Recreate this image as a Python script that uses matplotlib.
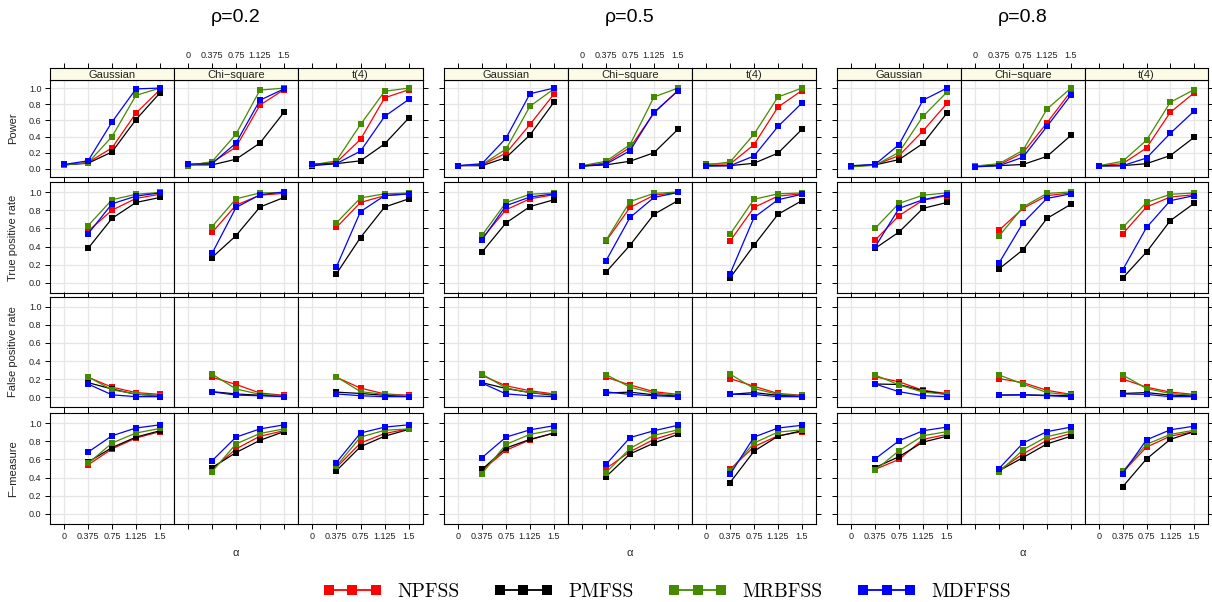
import numpy as np
import matplotlib
matplotlib.use("Agg")
import matplotlib.pyplot as plt
from matplotlib.lines import Line2D

plt.rcParams["font.family"] = ["Liberation Sans", "DejaVu Sans"]

W, H = 1212, 602

alpha_vals = [0, 0.375, 0.75, 1.125, 1.5]
alpha_labels = ["0", "0.375", "0.75", "1.125", "1.5"]
rhos = ["0.2", "0.5", "0.8"]
dists = ["Gaussian", "Chi\u2212square", "t(4)"]
metrics = ["Power", "True positive rate", "False positive rate", "F\u2212measure"]
methods = ["NPFSS", "PMFSS", "MRBFSS", "MDFFSS"]
colors = ["#FF0000", "#000000", "#458B00", "#0000FF"]

# power: [dist][method][alpha 0..1.5]; other metrics start at alpha=0.375
power_02 = [
    [[0.05, 0.08, 0.26, 0.69, 0.98], [0.05, 0.07, 0.21, 0.61, 0.94],
     [0.05, 0.075, 0.40, 0.91, 1.00], [0.055, 0.10, 0.58, 0.99, 1.00]],
    [[0.05, 0.08, 0.27, 0.79, 0.98], [0.05, 0.05, 0.12, 0.32, 0.70],
     [0.04, 0.09, 0.43, 0.975, 1.00], [0.06, 0.065, 0.32, 0.85, 0.99]],
    [[0.05, 0.08, 0.365, 0.88, 0.98], [0.04, 0.065, 0.10, 0.31, 0.63],
     [0.05, 0.10, 0.55, 0.96, 1.00], [0.06, 0.065, 0.22, 0.65, 0.86]],
]
tpr_02 = [
    [[0.57, 0.80, 0.93, 0.975], [0.38, 0.71, 0.885, 0.94],
     [0.63, 0.915, 0.975, 0.995], [0.54, 0.87, 0.955, 0.99]],
    [[0.555, 0.855, 0.965, 0.985], [0.28, 0.52, 0.835, 0.94],
     [0.62, 0.925, 0.99, 0.995], [0.325, 0.83, 0.97, 1.00]],
    [[0.61, 0.885, 0.96, 0.98], [0.10, 0.50, 0.835, 0.925],
     [0.66, 0.935, 0.98, 0.99], [0.175, 0.785, 0.96, 0.98]],
]
fpr_02 = [
    [[0.22, 0.11, 0.05, 0.03], [0.16, 0.09, 0.03, 0.015],
     [0.225, 0.08, 0.035, 0.015], [0.145, 0.025, 0.005, 0.005]],
    [[0.22, 0.14, 0.045, 0.02], [0.06, 0.035, 0.02, 0.01],
     [0.255, 0.09, 0.03, 0.015], [0.058, 0.022, 0.015, 0.005]],
    [[0.22, 0.10, 0.035, 0.02], [0.055, 0.04, 0.02, 0.01],
     [0.225, 0.06, 0.03, 0.015], [0.035, 0.015, 0.005, 0.005]],
]
f_02 = [
    [[0.54, 0.715, 0.835, 0.905], [0.57, 0.73, 0.845, 0.915],
     [0.555, 0.78, 0.89, 0.94], [0.68, 0.86, 0.945, 0.98]],
    [[0.49, 0.715, 0.855, 0.915], [0.51, 0.675, 0.81, 0.905],
     [0.465, 0.77, 0.885, 0.935], [0.585, 0.845, 0.935, 0.98]],
    [[0.51, 0.78, 0.885, 0.935], [0.475, 0.74, 0.855, 0.93],
     [0.525, 0.845, 0.92, 0.935], [0.565, 0.89, 0.955, 0.98]],
]

power_05 = [
    [[0.04, 0.05, 0.195, 0.55, 0.925], [0.04, 0.04, 0.14, 0.42, 0.825],
     [0.04, 0.055, 0.245, 0.775, 0.99], [0.04, 0.065, 0.38, 0.93, 1.00]],
    [[0.035, 0.075, 0.265, 0.69, 0.97], [0.035, 0.05, 0.095, 0.20, 0.49],
     [0.04, 0.095, 0.30, 0.89, 1.00], [0.035, 0.06, 0.225, 0.70, 0.965]],
    [[0.06, 0.06, 0.30, 0.765, 0.97], [0.04, 0.04, 0.07, 0.195, 0.49],
     [0.05, 0.085, 0.43, 0.89, 1.00], [0.035, 0.04, 0.16, 0.525, 0.815]],
]
tpr_05 = [
    [[0.49, 0.805, 0.925, 0.97], [0.34, 0.66, 0.84, 0.915],
     [0.525, 0.885, 0.975, 0.99], [0.475, 0.85, 0.945, 0.98]],
    [[0.46, 0.83, 0.965, 0.995], [0.12, 0.415, 0.755, 0.905],
     [0.47, 0.895, 0.985, 1.00], [0.245, 0.72, 0.94, 0.995]],
    [[0.46, 0.83, 0.955, 0.98], [0.055, 0.415, 0.755, 0.905],
     [0.535, 0.92, 0.98, 0.99], [0.10, 0.72, 0.915, 0.975]],
]
fpr_05 = [
    [[0.24, 0.125, 0.07, 0.035], [0.16, 0.095, 0.05, 0.02],
     [0.255, 0.10, 0.05, 0.03], [0.155, 0.035, 0.015, 0.005]],
    [[0.22, 0.135, 0.06, 0.03], [0.045, 0.055, 0.025, 0.015],
     [0.25, 0.11, 0.045, 0.02], [0.058, 0.03, 0.015, 0.005]],
    [[0.205, 0.12, 0.04, 0.02], [0.03, 0.05, 0.02, 0.015],
     [0.255, 0.095, 0.03, 0.018], [0.03, 0.03, 0.005, 0.005]],
]
f_05 = [
    [[0.48, 0.70, 0.815, 0.89], [0.49, 0.725, 0.82, 0.89],
     [0.445, 0.765, 0.875, 0.925], [0.62, 0.845, 0.925, 0.97]],
    [[0.50, 0.685, 0.82, 0.90], [0.41, 0.66, 0.78, 0.875],
     [0.455, 0.72, 0.865, 0.925], [0.545, 0.84, 0.915, 0.975]],
    [[0.49, 0.74, 0.86, 0.905], [0.345, 0.69, 0.855, 0.915],
     [0.475, 0.78, 0.90, 0.925], [0.435, 0.845, 0.945, 0.975]],
]

power_08 = [
    [[0.035, 0.05, 0.165, 0.47, 0.81], [0.035, 0.05, 0.115, 0.315, 0.69],
     [0.025, 0.045, 0.205, 0.65, 0.95], [0.04, 0.055, 0.30, 0.85, 1.00]],
    [[0.035, 0.05, 0.20, 0.57, 0.96], [0.035, 0.04, 0.055, 0.155, 0.415],
     [0.035, 0.065, 0.23, 0.74, 1.00], [0.025, 0.04, 0.145, 0.525, 0.915]],
    [[0.04, 0.065, 0.26, 0.70, 0.94], [0.04, 0.04, 0.065, 0.165, 0.39],
     [0.04, 0.095, 0.355, 0.825, 0.98], [0.035, 0.04, 0.135, 0.44, 0.715]],
]
tpr_08 = [
    [[0.47, 0.74, 0.91, 0.96], [0.38, 0.56, 0.82, 0.885],
     [0.60, 0.875, 0.965, 0.99], [0.395, 0.82, 0.915, 0.97]],
    [[0.58, 0.82, 0.96, 0.99], [0.155, 0.365, 0.71, 0.865],
     [0.515, 0.835, 0.985, 1.00], [0.22, 0.66, 0.93, 0.98]],
    [[0.54, 0.835, 0.945, 0.97], [0.055, 0.34, 0.685, 0.875],
     [0.61, 0.885, 0.975, 0.99], [0.145, 0.61, 0.905, 0.96]],
]
fpr_08 = [
    [[0.225, 0.17, 0.075, 0.04], [0.145, 0.14, 0.07, 0.03],
     [0.245, 0.135, 0.055, 0.03], [0.145, 0.06, 0.015, 0.005]],
    [[0.205, 0.16, 0.075, 0.03], [0.022, 0.025, 0.02, 0.015],
     [0.245, 0.145, 0.05, 0.025], [0.022, 0.025, 0.015, 0.005]],
    [[0.20, 0.11, 0.055, 0.03], [0.04, 0.05, 0.022, 0.015],
     [0.245, 0.095, 0.04, 0.02], [0.035, 0.03, 0.005, 0.005]],
]
f_08 = [
    [[0.49, 0.60, 0.82, 0.875], [0.51, 0.63, 0.79, 0.855],
     [0.48, 0.695, 0.86, 0.905], [0.605, 0.805, 0.915, 0.955]],
    [[0.48, 0.66, 0.81, 0.885], [0.475, 0.62, 0.77, 0.855],
     [0.46, 0.705, 0.85, 0.91], [0.50, 0.78, 0.905, 0.955]],
    [[0.46, 0.735, 0.855, 0.905], [0.30, 0.605, 0.82, 0.905],
     [0.47, 0.765, 0.875, 0.92], [0.445, 0.815, 0.925, 0.965]],
]

data = [
    [power_02, tpr_02, fpr_02, f_02],
    [power_05, tpr_05, fpr_05, f_05],
    [power_08, tpr_08, fpr_08, f_08],
]

# layout in pixels
group_cols = [
    [(50, 174), (174, 298), (298, 423)],
    [(444, 568), (568, 692), (692, 816)],
    [(837, 961), (961, 1085), (1085, 1208)],
]
rows = [(80, 177), (182, 293), (297, 407), (413, 524)]
strip = (68, 80)

def px_axes(fig, x0, x1, y0, y1):
    return fig.add_axes([x0 / W, 1 - y1 / H, (x1 - x0) / W, (y1 - y0) / H])

fig = plt.figure(figsize=(W / 100, H / 100), dpi=100)

TICK_LEN = 3.6
yticks = [0, 0.2, 0.4, 0.6, 0.8, 1.0]

for g in range(3):
    for c in range(3):
        x0, x1 = group_cols[g][c]
        for r in range(4):
            y0, y1 = rows[r]
            ax = px_axes(fig, x0, x1, y0, y1)
            ax.set_xlim(-0.22, 1.72)
            if r == 0:
                ax.set_ylim(-0.1, 1.1)
            else:
                ax.set_ylim(-0.11, 1.11)
            ax.set_xticks(alpha_vals)
            ax.set_yticks(yticks)
            ax.grid(True, color="#E6E6E6", lw=0.9)
            ax.set_axisbelow(True)
            for s in ax.spines.values():
                s.set_color("#000000")
                s.set_linewidth(0.8)

            xs = alpha_vals if r == 0 else alpha_vals[1:]
            vals = data[g][r][c]
            for m in range(4):
                ax.plot(xs, vals[m], color=colors[m], lw=0.9, marker="s",
                        markersize=4.3, markeredgewidth=0, zorder=3 + m)

            ax.tick_params(axis="both", direction="out", length=TICK_LEN,
                           width=0.7, labelsize=6.5, colors="#000000",
                           labelcolor="#222222")
            ax.tick_params(axis="x", top=(r > 0), bottom=True,
                           labeltop=False,
                           labelbottom=(r == 3 and c != 1), pad=2.5)
            ax.tick_params(axis="y", left=(c == 0), right=(c == 2),
                           labelleft=(g == 0 and c == 0), labelright=False,
                           pad=2.5)
            ax.set_xticklabels(alpha_labels)
            ax.set_yticklabels(["%.1f" % v for v in yticks])

        # strip on top of first row
        sax = px_axes(fig, x0, x1, strip[0], strip[1])
        sax.set_xlim(-0.22, 1.72)
        sax.set_ylim(0, 1)
        sax.set_facecolor("#FBFBE6")
        sax.set_xticks(alpha_vals)
        sax.set_xticklabels(alpha_labels)
        sax.set_yticks([])
        for s in sax.spines.values():
            s.set_color("#000000")
            s.set_linewidth(0.8)
        sax.tick_params(axis="x", direction="out", length=TICK_LEN, width=0.7,
                        bottom=False, labelbottom=False, top=True,
                        labeltop=(c == 1), labelsize=6.5, pad=2.5,
                        labelcolor="#222222")
        sax.text(0.5, 0.45, dists[c], transform=sax.transAxes, ha="center",
                 va="center", fontsize=8, color="#222222")

    # group title and x label
    mid = (group_cols[g][1][0] + group_cols[g][1][1]) / 2
    fig.text(mid / W, 1 - 18 / H, "\u03c1=" + rhos[g], ha="center",
             va="center", fontsize=14)
    fig.text(mid / W, 1 - 553 / H, "\u03b1", ha="center", va="center",
             fontsize=8, color="#222222")

for r in range(4):
    yc = (rows[r][0] + rows[r][1]) / 2
    fig.text(13 / W, 1 - yc / H, metrics[r], rotation=90, ha="center",
             va="center", fontsize=8, color="#222222")

handles = [Line2D([0], [0], color=colors[m], lw=1.3, marker="s",
                  markersize=6.5, markeredgewidth=0) for m in range(4)]
fig.legend(handles, methods, loc="center", bbox_to_anchor=(667 / W, 1 - 592 / H),
           ncol=4, frameon=False, numpoints=3, handlelength=3.0,
           handletextpad=0.8, columnspacing=1.8,
           prop={"family": "cmr10", "size": 14})

fig.savefig("out.png", dpi=100)
